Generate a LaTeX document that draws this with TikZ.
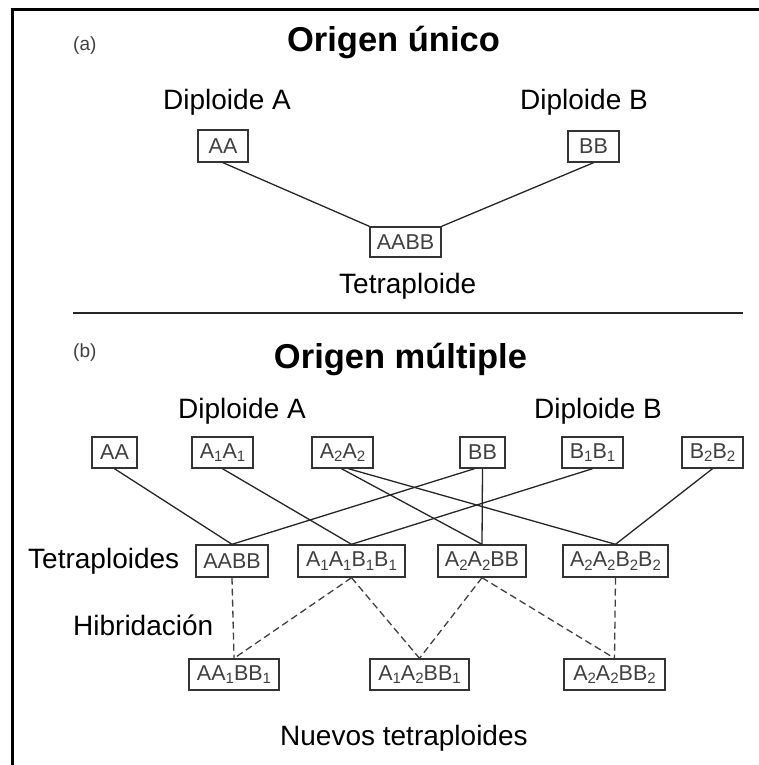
\documentclass[tikz,border=0pt]{standalone}
\usepackage{fontspec}
\setmainfont{Liberation Sans}
\newcommand{\lo}[1]{\raisebox{-3.5pt}{\fontsize{15}{15}\selectfont #1}}
\tikzset{
  gbox/.style={draw=black!80, line width=1.4pt, text=black!75, inner sep=0pt,
    font=\fontsize{21.5}{23}\selectfont, minimum height=31pt},
  lbl/.style={anchor=base west, inner sep=0pt, font=\fontsize{28}{30}\selectfont},
  ttl/.style={anchor=base, inner sep=0pt, font=\fontsize{34.5}{36}\selectfont\bfseries},
  tag/.style={anchor=base west, inner sep=0pt, text=black!75, font=\fontsize{19}{20}\selectfont},
  link/.style={draw=black!85, line width=1.3pt},
  hyb/.style={draw=black!75, line width=1.3pt, dash pattern=on 7pt off 4pt}
}
\begin{document}
\begin{tikzpicture}[x=1pt,y=-1pt]
\useasboundingbox (0,0) rectangle (759,765);
\fill[white] (0,0) rectangle (759,765);
% frame
\draw[line width=3.5pt] (10.75,9.5) -- (759,9.5);
\draw[line width=3.5pt] (12.5,7.75) -- (12.5,765);
% separator
\draw[black!85, line width=1.5pt] (73,313) -- (743,313);

% (a)
\node[tag] (taga) at (73,51) {(a)};
\node[ttl] (titlea) at (393.5,52) {Origen único};
\node[lbl] (dipAa) at (163,110) {Diploide A};
\node[lbl] (dipBa) at (520,110) {Diploide B};
\node[gbox, minimum width=50pt, minimum height=32pt] (aAA) at (223,146) {AA};
\node[gbox, minimum width=51pt] (aBB) at (593.5,146.5) {BB};
\node[gbox, minimum width=71pt, minimum height=30pt] (aAABB) at (405.5,242) {AABB};
\node[lbl] (tetraa) at (339,293) {Tetraploide};
\draw[link] (aAA.south) -- (aAABB.north west);
\draw[link] (aBB.south) -- (aAABB.north east);

% (b)
\node[tag] (tagb) at (73,357) {(b)};
\node[ttl] (titleb) at (400.5,368) {Origen múltiple};
\node[lbl] (dipAb) at (178,418) {Diploide A};
\node[lbl] (dipBb) at (534,418) {Diploide B};

\node[gbox, minimum width=45pt] (bAA) at (114.5,452.5) {AA};
\node[gbox, minimum width=61pt] (bA1A1) at (222.5,452.5) {A\lo{1}A\lo{1}};
\node[gbox, minimum width=61pt] (bA2A2) at (342.5,452.5) {A\lo{2}A\lo{2}};
\node[gbox, minimum width=45pt] (bBB) at (482.5,452.5) {BB};
\node[gbox, minimum width=61pt] (bB1B1) at (592.5,452.5) {B\lo{1}B\lo{1}};
\node[gbox, minimum width=61pt] (bB2B2) at (712.5,452.5) {B\lo{2}B\lo{2}};

\node[lbl] (tetrab) at (28,568) {Tetraploides};
\node[gbox, minimum width=72pt, minimum height=32pt] (tAABB) at (232,561) {AABB};
\node[gbox, minimum width=107pt, minimum height=32pt] (tA1) at (351.5,561) {A\lo{1}A\lo{1}B\lo{1}B\lo{1}};
\node[gbox, minimum width=88pt, minimum height=32pt] (tA2BB) at (482,561) {A\lo{2}A\lo{2}BB};
\node[gbox, minimum width=105pt, minimum height=32pt] (tA2B2) at (615.5,561) {A\lo{2}A\lo{2}B\lo{2}B\lo{2}};

\node[lbl] (hib) at (73,635) {Hibridación};
\node[gbox, minimum width=90pt] (nA) at (234,674.5) {AA\lo{1}BB\lo{1}};
\node[gbox, minimum width=99pt] (nB) at (419.5,674.5) {A\lo{1}A\lo{2}BB\lo{1}};
\node[gbox, minimum width=101pt] (nC) at (614.5,674.5) {A\lo{2}A\lo{2}BB\lo{2}};
\node[lbl] (nuevos) at (280,745) {Nuevos tetraploides};

% solid connectors
\draw[link] (bAA.south) -- (tAABB.north);
\draw[link] (bA1A1.south) -- (tA1.north);
\draw[link] ([xshift=-1pt]bA2A2.south) -- (tA2BB.north);
\draw[link] ([xshift=6pt]bA2A2.south) -- (tA2B2.north);
\draw[link] ([xshift=-8pt]bBB.south) -- (tAABB.north);
\draw[link] (bBB.south) -- (tA2BB.north);
\draw[link] (bB1B1.south) -- (tA1.north);
\draw[link] (bB2B2.south) -- (tA2B2.north);

% dashed connectors
\draw[hyb] (tAABB.south) -- (nA.north);
\draw[hyb] (tA1.south) -- (nA.north);
\draw[hyb] (tA1.south) -- (nB.north);
\draw[hyb] (tA2BB.south) -- (nB.north);
\draw[hyb] (tA2BB.south) -- (nC.north);
\draw[hyb] (tA2B2.south) -- (nC.north);
\end{tikzpicture}
\end{document}
